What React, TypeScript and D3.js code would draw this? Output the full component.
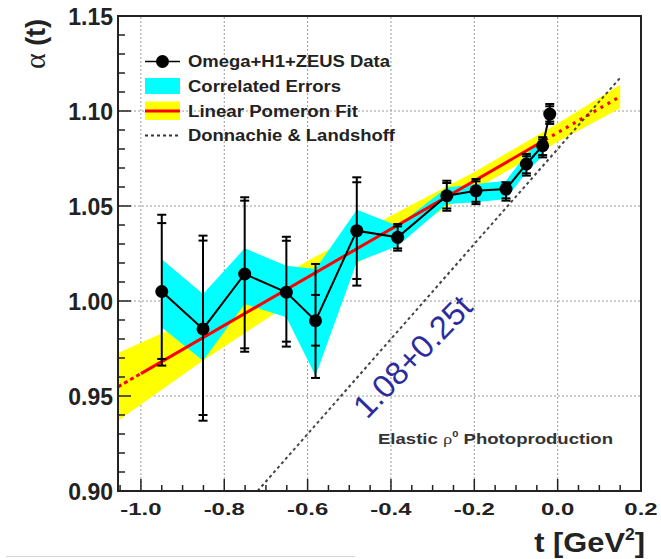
import React from "react";
import * as d3 from "d3";

// ---- data ----
const tData = [-0.950, -0.851, -0.751, -0.651, -0.581, -0.482, -0.384, -0.266, -0.196, -0.124, -0.075, -0.036, -0.019];
const alphaData = [1.005, 0.9853, 1.0142, 1.0046, 0.9896, 1.037, 1.0335, 1.0554, 1.058, 1.0589, 1.0721, 1.0817, 1.0984];
const totalHi = [1.0454, 1.0344, 1.0546, 1.0338, 1.0195, 1.0651, 1.0405, 1.0633, 1.0642, 1.0625, 1.0774, 1.0862, 1.1037];
const statHi = [1.0410, 1.0318, 1.0528, 1.0317, 1.0032, 1.0625, 1.0393, 1.0621, 1.0630, 1.0613, 1.0762, 1.0850, 1.1025];
const statLo = [0.9695, 0.9400, 0.9751, 0.9786, 0.9765, 1.0116, 1.0277, 1.0487, 1.0522, 1.0540, 1.0672, 1.0768, 1.0944];
const totalLo = [0.9660, 0.9370, 0.9733, 0.9760, 0.9595, 1.0081, 1.0265, 1.0475, 1.0510, 1.0528, 1.0660, 1.0756, 1.0932];

const corrT = tData.slice(0, 12);
const corrUpper = [1.022, 1.0037, 1.0277, 1.0186, 1.0168, 1.048, 1.0396, 1.0598, 1.0616, 1.0633, 1.0774, 1.0853];
const corrLower = [0.986, 0.9686, 0.9984, 0.9914, 0.9607, 1.0205, 1.029, 1.051, 1.052, 1.0537, 1.0677, 1.0765];

const fitT = [-1.055, -0.85, -0.675, -0.555, -0.4, -0.2, 0.0, 0.15];
const fitUpper = [0.9726, 0.9928, 1.012, 1.0265, 1.0449, 1.0679, 1.0934, 1.1138];
const fitLower = [0.937, 0.9688, 0.994, 1.0099, 1.0309, 1.0585, 1.0838, 1.1014];
const fitIntercept = 1.0886;
const fitSlope = 0.1268;
const fitRange = [-1.055, 0.15];
const fitSolid = [-1.0, -0.03];

const dlIntercept = 1.08;
const dlSlope = 0.25;
const dlRange = [-0.72, 0.15];

const xTicks = [-1.0, -0.8, -0.6, -0.4, -0.2, 0.0, 0.2];
const yTicks = [0.9, 0.95, 1.0, 1.05, 1.1, 1.15];
const legendLabels = ["Omega+H1+ZEUS Data", "Correlated Errors", "Linear Pomeron Fit", "Donnachie & Landshoff"];

const W = 661;
const H = 559;
const SANS = "'Liberation Sans', Arial, Helvetica, sans-serif";
const SERIF = "'Liberation Serif', 'DejaVu Serif', serif";

export default function App() {
  const x = d3.scaleLinear().domain([-1.055, 0.2]).range([118, 641]);
  const y = d3.scaleLinear().domain([0.9, 1.15]).range([491, 16]);
  const [x0, x1] = x.range();
  const [y0, y1] = y.range();

  const fitArea = d3
    .area<number>()
    .x((_, i) => x(fitT[i]))
    .y0((_, i) => y(fitLower[i]))
    .y1((_, i) => y(fitUpper[i]));
  const corrArea = d3
    .area<number>()
    .x((_, i) => x(corrT[i]))
    .y0((_, i) => y(corrLower[i]))
    .y1((_, i) => y(corrUpper[i]));
  const line = d3.line<[number, number]>().x((d) => x(d[0])).y((d) => y(d[1]));
  const fitF = (t: number) => fitIntercept + fitSlope * t;
  const dlF = (t: number) => dlIntercept + dlSlope * t;
  const dataLine = line(tData.map((t, i) => [t, alphaData[i]] as [number, number]));

  const minorX = d3.range(-1.05, 0.2001, 0.05).map((v) => +v.toFixed(2));
  const minorY = d3.range(0.9, 1.1501, 0.01).map((v) => +v.toFixed(2));

  const gridColor = "#9a9a9a";
  const txt = "#222";

  const legX0 = 145;
  const legX1 = 180;
  const legRows = [61.5, 86.5, 111, 135.5];
  const legWidths = [202, 153, 170, 207];

  return (
    <svg width={W} height={H} style={{ position: "absolute", left: 0, top: 0, background: "#fff" }}>
      <rect x={0} y={0} width={W} height={H} fill="#fff" />
      {/* grid */}
      {xTicks.filter((v) => v > -1.05 && v < 0.19).map((v) => (
        <line key={"gx" + v} x1={x(v)} x2={x(v)} y1={y0} y2={y1} stroke={gridColor} strokeWidth={1} strokeDasharray="2,2" />
      ))}
      {yTicks.filter((v) => v > 0.91 && v < 1.14).map((v) => (
        <line key={"gy" + v} x1={x0} x2={x1} y1={y(v)} y2={y(v)} stroke={gridColor} strokeWidth={1} strokeDasharray="2,2" />
      ))}

      {/* fit band */}
      <path d={fitArea(fitT) || ""} fill="#ffff00" />
      {/* correlated errors */}
      <path d={corrArea(corrT) || ""} fill="#00ffff" />

      {/* fit line */}
      <path d={line([[fitRange[0], fitF(fitRange[0])], [fitSolid[0], fitF(fitSolid[0])]]) || ""} stroke="#ff0000" strokeWidth={3} strokeDasharray="4,3" fill="none" />
      <path d={line([[fitSolid[0], fitF(fitSolid[0])], [fitSolid[1], fitF(fitSolid[1])]]) || ""} stroke="#ff0000" strokeWidth={3} fill="none" />
      <path d={line([[fitSolid[1], fitF(fitSolid[1])], [fitRange[1], fitF(fitRange[1])]]) || ""} stroke="#ff0000" strokeWidth={3} strokeDasharray="3,5" fill="none" />

      {/* Donnachie & Landshoff */}
      <path d={line([[dlRange[0], dlF(dlRange[0])], [dlRange[1], dlF(dlRange[1])]]) || ""} stroke="#444" strokeWidth={2} strokeDasharray="3,3" fill="none" />

      {/* data */}
      <path d={dataLine || ""} stroke="#000" strokeWidth={2} fill="none" />
      {tData.map((t, i) => {
        const cx = x(t);
        return (
          <g key={"e" + i} stroke="#000" strokeWidth={2}>
            <line x1={cx} x2={cx} y1={y(totalHi[i])} y2={y(totalLo[i])} />
            {[totalHi[i], statHi[i], statLo[i], totalLo[i]].map((v, k) => (
              <line key={k} x1={cx - 4.5} x2={cx + 4.5} y1={y(v)} y2={y(v)} />
            ))}
          </g>
        );
      })}
      {tData.map((t, i) => (
        <circle key={"m" + i} cx={x(t)} cy={y(alphaData[i])} r={6.5} fill="#000" />
      ))}

      {/* blue D&L label */}
      <text
        transform="translate(367,420) rotate(-46)"
        fontFamily={SANS}
        fontSize={32.5}
        fill="#2c2c9c"
      >
        {`${dlIntercept.toFixed(2)}+${dlSlope.toFixed(2)}t`}
      </text>

      {/* process label */}
      <text x={378} y={444} fontFamily={SANS} fontSize={15} fontWeight="bold" fill="#333" textLength={235} lengthAdjust="spacingAndGlyphs">
        Elastic <tspan fontFamily={SERIF} fontWeight="normal">ρ</tspan>
        <tspan fontSize={9} dy={-7}>0</tspan>
        <tspan dy={7}> Photoproduction</tspan>
      </text>

      {/* frame */}
      <rect x={x0} y={y1} width={x1 - x0} height={y0 - y1} fill="none" stroke="#222" strokeWidth={2} />

      {/* y ticks */}
      {minorY.map((v) => {
        const major = Math.abs(v * 100 - Math.round(v * 20) * 5) < 1e-6;
        return <line key={"ty" + v} x1={x0} x2={x0 + (major ? 13 : 7)} y1={y(v)} y2={y(v)} stroke="#222" strokeWidth={1.5} />;
      })}
      {/* x ticks */}
      {minorX.map((v) => {
        const major = Math.abs(v * 100 - Math.round(v * 5) * 20) < 1e-6;
        return <line key={"tx" + v} x1={x(v)} x2={x(v)} y1={y0} y2={y0 - (major ? 12 : 6)} stroke="#222" strokeWidth={1.5} />;
      })}

      {/* y tick labels */}
      {yTicks.map((v) => (
        <text key={"ly" + v} x={113} y={y(v) + 8.5} textAnchor="end" fontFamily={SANS} fontWeight="bold" fontSize={23} fill={txt}>
          {v.toFixed(2)}
        </text>
      ))}
      {/* x tick labels */}
      {xTicks.map((v) => (
        <text
          key={"lx" + v}
          transform={`translate(${x(v)},515) scale(1.45,1)`}
          textAnchor="middle"
          fontFamily={SANS}
          fontWeight="bold"
          fontSize={16.5}
          fill={txt}
        >
          {v.toFixed(1)}
        </text>
      ))}

      {/* axis titles */}
      <text transform="translate(45,44) rotate(-90)" textAnchor="middle" fontFamily={SANS} fontWeight="bold" fontSize={27} fill={txt}>
        <tspan fontFamily={SERIF} fontWeight="normal" fontSize={30}>α</tspan> (t)
      </text>
      <text
        transform="translate(645,552) scale(1.1,1)"
        textAnchor="end"
        fontFamily={SANS}
        fontWeight="bold"
        fontSize={28}
        fill={txt}
      >
        t [GeV<tspan fontSize={16} dy={-12}>2</tspan>
        <tspan dy={12}>]</tspan>
      </text>

      {/* legend */}
      <line x1={legX0} x2={legX1} y1={legRows[0]} y2={legRows[0]} stroke="#000" strokeWidth={1.5} />
      <circle cx={(legX0 + legX1) / 2} cy={legRows[0]} r={6.5} fill="#000" />
      <rect x={legX0} y={legRows[1] - 8.5} width={legX1 - legX0} height={16} fill="#00ffff" />
      <rect x={legX0} y={legRows[2] - 9.5} width={legX1 - legX0} height={18.5} fill="#ffff00" />
      <line x1={legX0} x2={legX1} y1={legRows[2]} y2={legRows[2]} stroke="#ff0000" strokeWidth={3} />
      <line x1={legX0} x2={legX1} y1={legRows[3]} y2={legRows[3]} stroke="#333" strokeWidth={2} strokeDasharray="3,3" />
      {legendLabels.map((l, i) => (
        <text key={l} x={188} y={legRows[i] + 5.5} fontFamily={SANS} fontWeight="bold" fontSize={16} fill={txt} textLength={legWidths[i]} lengthAdjust="spacingAndGlyphs">
          {l}
        </text>
      ))}

      {/* stray rule at bottom */}
      <line x1={6} x2={355} y1={556.5} y2={556.5} stroke="#d8d8d8" strokeWidth={1} />
    </svg>
  );
}
